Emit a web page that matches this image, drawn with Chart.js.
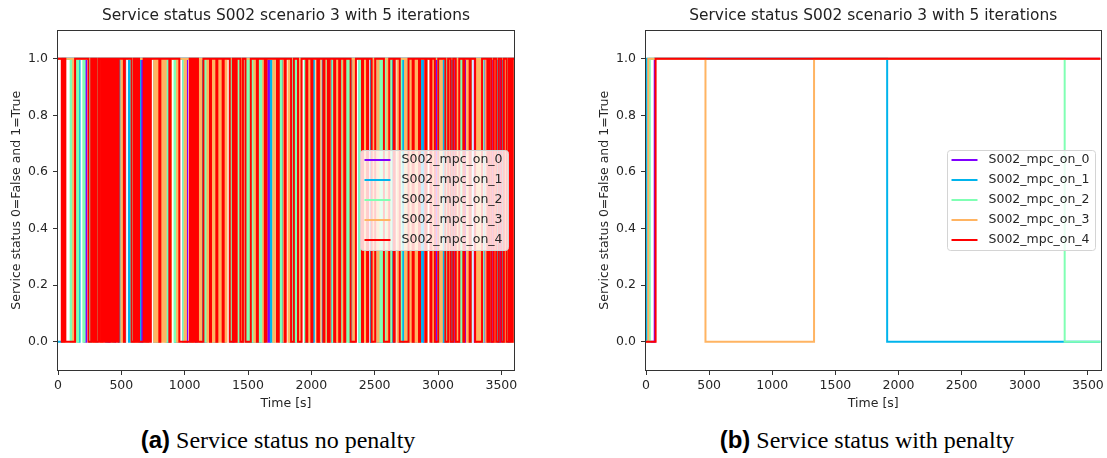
<!DOCTYPE html>
<html>
<head>
<meta charset="utf-8">
<script src="https://cdn.jsdelivr.net/npm/chart.js@4.4.1/dist/chart.umd.min.js"></script>
<style>
  html, body { margin: 0; background: #fff; overflow: hidden; }
  body { width: 1107px; height: 458px; position: relative; }
  canvas { position: absolute; top: 0; }
  #chartA { left: 0; }
  #chartB { left: 588px; }
  .caption { position: absolute; top: 428px; line-height: 24px; font-family: 'Liberation Serif', serif; font-size: 24px; color: #000; white-space: nowrap; transform: translateX(-50%); }
  .caption b { font-family: 'Liberation Sans', Arial, sans-serif; font-weight: bold; }
</style>
</head>
<body>
<canvas id="chartA" width="540" height="415"></canvas>
<canvas id="chartB" width="519" height="415"></canvas>
<div class="caption" style="left:278px"><b>(a)</b> Service status no penalty</div>
<div class="caption" style="left:867px"><b>(b)</b> Service status with penalty</div>
<script>
// axes
var timeTicks   = [0, 500, 1000, 1500, 2000, 2500, 3000, 3500]
var statusTicks = [0, 0.2, 0.4, 0.6, 0.8, 1.0]
var seriesNames = ['S002_mpc_on_0', 'S002_mpc_on_1', 'S002_mpc_on_2', 'S002_mpc_on_3', 'S002_mpc_on_4']
var seriesColors = ['#8000ff', '#00b4ec', '#80ffb4', '#ffb462', '#ff0000']

// (a) no penalty: state at t=0 and the times [s] where the state flips
var startA = [1, 0, 1, 1, 1]
var switchA0 = [210, 222, 300, 310, 400, 408, 440, 450, 520, 530, 585, 598, 660, 668, 760, 770, 870, 880, 930, 940,
  1010, 1020, 1090, 1100, 1160, 1170, 1240, 1250, 1380, 1388, 1450, 1460, 1530, 1545, 1590, 1600, 1660, 1672,
  1780, 1790, 1860, 1875, 1950, 1960, 2000, 2010, 2060, 2070, 2130, 2140, 2190, 2200, 2250, 2262, 2330, 2340,
  2400, 2408, 2470, 2480, 2530, 2545, 2620, 2630, 2690, 2700, 2760, 2770, 2830, 2840, 2890, 2900, 2980, 2990,
  3050, 3062, 3130, 3140, 3160, 3170, 3200, 3215, 3290, 3300, 3360, 3370, 3420, 3432, 3480, 3490, 3550, 3560]
var switchA1 = [35, 160, 170, 250, 260, 380, 390, 480, 492, 560, 570, 640, 650, 700, 712, 780, 790, 860, 870, 925,
  935, 990, 1000, 1045, 1055, 1130, 1140, 1220, 1230, 1310, 1322, 1360, 1370, 1420, 1430, 1490, 1500, 1510, 1520,
  1530, 1540, 1550, 1560, 1570, 1580, 1620, 1630, 1680, 1690, 1770, 1780, 1830, 1840, 1905, 1918, 1960, 1970,
  2010, 2020, 2090, 2100, 2160, 2170, 2220, 2230, 2300, 2315, 2380, 2390, 2470, 2480, 2520, 2530, 2560, 2570,
  2640, 2655, 2720, 2730, 2800, 2815, 2870, 2880, 2950, 2960, 3040, 3055, 3100, 3115, 3180, 3190, 3250, 3262,
  3330, 3345, 3395, 3410, 3470, 3480, 3510, 3520, 3560, 3572]
var switchA2 = [100, 110, 150, 160, 200, 210, 250, 260, 300, 310, 430, 440, 520, 530, 580, 590, 680, 690, 760, 770,
  850, 860, 920, 930, 990, 1000, 1050, 1060, 1100, 1110, 1160, 1172, 1250, 1260, 1360, 1370, 1420, 1430, 1480,
  1490, 1500, 1512, 1525, 1540, 1555, 1570, 1585, 1600, 1615, 1630, 1700, 1710, 1750, 1760, 1830, 1840, 1850,
  1862, 1875, 1890, 1950, 1960, 2050, 2060, 2120, 2130, 2170, 2180, 2220, 2232, 2245, 2258, 2270, 2285, 2300,
  2310, 2380, 2390, 2430, 2440, 2540, 2552, 2565, 2578, 2590, 2605, 2620, 2630, 2700, 2710, 2760, 2770, 2840,
  2850, 2900, 2912, 3000, 3010, 3060, 3070, 3140, 3150, 3162, 3175, 3188, 3200, 3250, 3260, 3350, 3360, 3400,
  3410, 3450, 3460, 3530, 3545]
var switchA3 = [40, 50, 120, 132, 280, 292, 340, 350, 500, 512, 600, 610, 620, 630, 700, 710, 760, 770, 780, 790,
  800, 810, 820, 830, 840, 850, 880, 892, 940, 950, 1000, 1010, 1060, 1070, 1120, 1130, 1180, 1192, 1200, 1210,
  1220, 1230, 1240, 1250, 1260, 1270, 1280, 1290, 1300, 1310, 1320, 1330, 1400, 1410, 1450, 1460, 1550, 1560,
  1620, 1630, 1700, 1712, 1780, 1790, 1820, 1830, 1900, 1910, 1980, 1990, 2040, 2050, 2060, 2072, 2100, 2112,
  2140, 2150, 2200, 2210, 2250, 2260, 2330, 2340, 2420, 2432, 2480, 2490, 2520, 2530, 2600, 2610, 2680, 2690,
  2740, 2750, 2780, 2790, 2800, 2810, 2820, 2832, 2845, 2856, 2900, 2910, 2960, 2972, 3020, 3030, 3080, 3090,
  3150, 3160, 3230, 3240, 3300, 3312, 3325, 3340, 3380, 3390, 3440, 3450, 3520, 3530, 3580, 3590]
var switchA4 = [30, 45, 58, 135, 240, 262, 275, 290, 300, 318, 330, 346, 355, 362, 370, 378, 386, 394, 402, 410,
  418, 426, 434, 442, 450, 458, 466, 479, 520, 528, 581, 600, 612, 625, 640, 676, 690, 705, 718, 733, 800, 808,
  880, 888, 958, 1040, 1050, 1060, 1075, 1090, 1105, 1148, 1200, 1208, 1250, 1258, 1300, 1308, 1356, 1380, 1395,
  1410, 1440, 1460, 1480, 1522, 1570, 1578, 1633, 1646, 1729, 1743, 1790, 1798, 1840, 1862, 1895, 1923, 1960,
  1968, 2000, 2008, 2048, 2060, 2095, 2103, 2131, 2144, 2180, 2188, 2220, 2228, 2260, 2268, 2310, 2352, 2400,
  2408, 2440, 2448, 2476, 2504, 2573, 2615, 2650, 2658, 2698, 2767, 2800, 2808, 2850, 2858, 2900, 2908, 2940,
  2948, 2975, 3002, 3058, 3080, 3100, 3120, 3140, 3168, 3200, 3208, 3250, 3258, 3293, 3348, 3390, 3403, 3420,
  3440, 3460, 3480, 3500, 3520, 3542, 3560, 3575, 3590]

// (b) with penalty
var startB = [0, 0, 0, 0, 0]
var switchB0 = [69]
var switchB1 = [6, 1910]
var switchB2 = [30, 3316]
var switchB3 = [18, 471, 1331]
var switchB4 = [76]

var tEnd = 3600

Chart.defaults.font.family = "'DejaVu Sans', sans-serif"
Chart.defaults.color = '#262626'

function toSteps(start, switches) {
  var s = start
  var pts = [{ x: 0, y: s }]
  switches.forEach(function (t) {
    s = 1 - s
    pts.push({ x: t, y: s })
  })
  pts.push({ x: tEnd, y: s })
  return pts
}

function buildDatasets(starts, lists) {
  return lists.map(function (sw, i) {
    return {
      label: seriesNames[i],
      data: toSteps(starts[i], sw),
      borderColor: seriesColors[i],
      backgroundColor: seriesColors[i],
      borderWidth: 2,
      pointRadius: 0,
      stepped: 'before',
      fill: false,
      order: 4 - i
    }
  })
}

var frameBox = {
  id: 'frameBox',
  afterDatasetsDraw: function (chart) {
    var a = chart.chartArea, ctx = chart.ctx
    ctx.save()
    ctx.strokeStyle = '#333'
    ctx.lineWidth = 1
    ctx.strokeRect(Math.round(a.left) - 0.5, Math.round(a.top) + 0.5,
      Math.round(a.right - a.left) + 1, Math.round(a.bottom - a.top))
    ctx.restore()
  }
}

var legendBox = {
  id: 'legendBox',
  afterDraw: function (chart) {
    var a = chart.chartArea, ctx = chart.ctx
    var w = 148, h = 100
    var x = Math.round(a.right - 6 - w) + 0.5
    var y = Math.round((a.top + a.bottom) / 2 - h / 2) + 0.5
    ctx.save()
    ctx.beginPath()
    ctx.roundRect(x, y, w, h, 3)
    ctx.fillStyle = 'rgba(255,255,255,0.8)'
    ctx.fill()
    ctx.strokeStyle = '#d4d4d4'
    ctx.lineWidth = 1
    ctx.stroke()
    ctx.font = "12.5px 'DejaVu Sans'"
    ctx.textBaseline = 'middle'
    chart.data.datasets.forEach(function (ds, i) {
      var ly = y + 9.5 + i * 20
      ctx.strokeStyle = ds.borderColor
      ctx.lineWidth = 2
      ctx.beginPath()
      ctx.moveTo(x + 4, ly)
      ctx.lineTo(x + 30, ly)
      ctx.stroke()
      ctx.fillStyle = '#262626'
      ctx.fillText(ds.label, x + 41, ly)
    })
    ctx.restore()
  }
}

function makeChart(id, datasets, padRight) {
  return new Chart(document.getElementById(id).getContext('2d'), {
    type: 'line',
    data: { datasets: datasets },
    plugins: [frameBox, legendBox],
    options: {
      responsive: false,
      animation: false,
      devicePixelRatio: 1,
      layout: { padding: { left: 0, right: padRight, top: 0, bottom: 0 } },
      plugins: {
        legend: { display: false },
        tooltip: { enabled: false },
        title: {
          display: true,
          fullSize: false,
          text: 'Service status S002 scenario 3 with 5 iterations',
          color: '#222',
          font: { size: 15.4, weight: 'normal' },
          padding: { top: 7, bottom: 5 }
        }
      },
      scales: {
        x: {
          type: 'linear',
          min: 0,
          max: tEnd,
          afterBuildTicks: function (axis) { axis.ticks = timeTicks.map(function (v) { return { value: v } }) },
          afterFit: function (axis) { axis.height = 45 },
          grid: { drawOnChartArea: false, drawTicks: true, tickLength: 5, color: '#333' },
          border: { display: false },
          ticks: { font: { size: 12.5 }, padding: 3, maxRotation: 0, callback: function (v) { return String(v) } },
          title: { display: true, text: 'Time [s]', font: { size: 12.5 }, padding: { top: 0, bottom: 4 } }
        },
        y: {
          min: -0.1,
          max: 1.1,
          afterBuildTicks: function (axis) { axis.ticks = statusTicks.map(function (v) { return { value: v } }) },
          afterFit: function (axis) { axis.width = 58 },
          grid: { drawOnChartArea: false, drawTicks: true, tickLength: 5, color: '#333' },
          border: { display: false },
          ticks: { font: { size: 12.5 }, padding: 5, callback: function (v) { return v.toFixed(1) } },
          title: { display: true, text: 'Service status 0=False and 1=True', font: { size: 12.5 }, padding: { top: 9, bottom: 0 } }
        }
      }
    }
  })
}

var chartA = makeChart('chartA', buildDatasets(startA, [switchA0, switchA1, switchA2, switchA3, switchA4]), 26)
var chartB = makeChart('chartB', buildDatasets(startB, [switchB0, switchB1, switchB2, switchB3, switchB4]), 5)
</script>
</body>
</html>
